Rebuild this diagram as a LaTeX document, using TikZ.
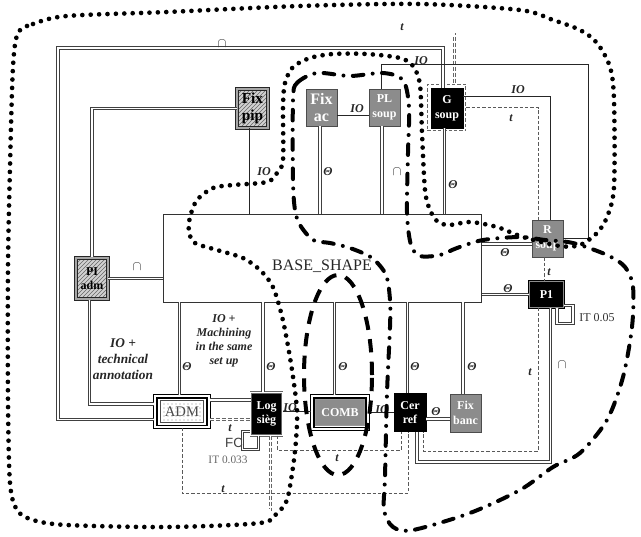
\documentclass[tikz,border=0pt]{standalone}
\usepackage{fontspec}
\setmainfont{Liberation Serif}
\newfontfamily\arialf{Liberation Sans}
\usetikzlibrary{patterns}
\begin{document}
\begin{tikzpicture}[x=0.75pt,y=-0.75pt,
 dbl/.style={draw=black!75, line width=0.75pt, double=white, double distance=1.1pt},
 sgl/.style={draw=black!85, line width=0.65pt},
 dsh/.style={draw=black!65, line width=0.6pt, dash pattern=on 2.5pt off 1.5pt},
 dbldsh/.style={draw=black!60, line width=0.55pt, double=white, double distance=1.1pt, dash pattern=on 3pt off 1.5pt},
 lab/.style={font=\fontsize{9}{10}\selectfont\bfseries\itshape, inner sep=0.5pt, text=black!85},
 capl/.style={font=\fontsize{10}{10}\selectfont, inner sep=0.5pt, text=black!80},
 grybox/.style={draw=black!70, line width=0.6pt, fill=black!45, text=white, font=\fontsize{9}{11}\selectfont\bfseries, align=center, inner sep=0pt, minimum width=23.25pt, minimum height=27.75pt},
 blkbox/.style={draw=black, line width=0.6pt, fill=black, text=white, font=\fontsize{9}{11}\selectfont\bfseries, align=center, inner sep=0pt},
 hatchbox/.style={draw=black!85, line width=0.7pt, double=black!35, double distance=1.3pt, preaction={fill=black!18}, pattern=north east lines, pattern color=black!60, font=\fontsize{9}{10}\selectfont\bfseries, align=center, inner sep=0pt},
 frame3/.style={draw=black, line width=1.1pt, double=white, double distance=1.3pt, inner sep=0pt},
 dotloop/.style={line width=3.5pt, line cap=round, dash pattern=on 0pt off 6.3pt},
 dashdotloop/.style={line width=3pt, line cap=round, dash pattern=on 8pt off 7pt on 0pt off 7pt},
 dashloop/.style={line width=3pt, dash pattern=on 10pt off 7pt}]
\useasboundingbox (0,0) rectangle (641,536);

% ---------- nodes ----------
\node[draw=black!80, line width=0.7pt, fill=white, minimum width=239pt, minimum height=66pt] (base) at (322.5,258) {};
\node[font=\fontsize{12}{14}\selectfont, text=black!85, inner sep=0pt] (basetxt) at (322,266) {BASE\_SHAPE};

\node[hatchbox, minimum width=23pt, minimum height=29pt, font=\fontsize{11.5}{13}\selectfont\bfseries] (fixpip) at (252.5,108.5) {Fix\\pip};
\node[grybox, font=\fontsize{12}{13}\selectfont\bfseries] (fixac) at (321.5,107.5) {Fix\\ac};
\node[grybox] (plsoup) at (384.5,107.5) {PL\\soup};
\node[draw=black!60, line width=0.6pt, dash pattern=on 2.5pt off 1.5pt, minimum width=29pt, minimum height=35pt, inner sep=0pt] (gbox) at (446.5,107.5) {};
\node[blkbox, minimum width=24pt, minimum height=30pt] (gsoup) at (447,108) {G\\soup};
\node[grybox] (rsoup) at (547.5,238.5) {R\\soup};
\node[blkbox, draw=black, line width=0.8pt, double=black!45, double distance=0.6pt, minimum width=25pt, minimum height=19pt] (p1) at (546.5,294.5) {P1};
\node[hatchbox, minimum width=24pt, minimum height=31pt] (piadm) at (92,278.5) {PI\\adm};

\node[frame3, minimum width=40.2pt, minimum height=23pt] (adm) at (182,411.5) {};
\node[draw=black!70, line width=0.4pt, preaction={fill=white}, pattern=dots, pattern color=black!45, minimum width=32pt, minimum height=16.5pt, inner sep=0pt, font=\fontsize{11}{12}\selectfont, text=black!70] (admin) at (adm.center) {ADM};

\node[blkbox, draw=black!60, line width=0.5pt, double=white, double distance=0.8pt, minimum width=23.5pt, minimum height=32pt] (logsieg) at (266.5,414) {Log\\sièg};

\node[frame3, minimum width=41.7pt, minimum height=24.5pt] (comb) at (340,412.5) {};
\node[fill=black!45, draw=black!40, line width=0.5pt, minimum width=37pt, minimum height=19.5pt, inner sep=0pt, text=white, font=\fontsize{9}{10}\selectfont\bfseries] (combin) at (comb.center) {COMB};

\node[blkbox, minimum width=24pt, minimum height=29pt] (cerref) at (410,412.5) {Cer\\ref};
\node[grybox, minimum height=28.5pt] (fixbanc) at (465.5,413) {Fix\\banc};

% ---------- connectors ----------
\coordinate (cA) at (58,48);
\draw[dbl] ([yshift=-6pt]adm.west) -| (cA) -| ([xshift=-3pt]gsoup.north);
\coordinate (cB) at (30,510);
\coordinate (cC) at (30,34);
\draw[dbldsh] ([xshift=3pt]logsieg.south) |- (cB) -- (cC) -| ([xshift=6pt]gbox.north);

\draw[dbl] (fixpip.west) -| (piadm.north);
\draw[sgl] ([xshift=-2pt]fixpip.south) -- ([xshift=-2pt]fixpip.south |- base.north);
\draw[dbl] ([xshift=-1pt]fixac.south) -- ([xshift=-1pt]fixac.south |- base.north);
\draw[sgl] ([yshift=-6pt]fixac.east) -- ([yshift=-6pt]plsoup.west);
\draw[dbl] ([xshift=-2pt]plsoup.south) -- ([xshift=-2pt]plsoup.south |- base.north);
\coordinate (cD) at (588,64);
\draw[sgl] ([xshift=-2pt]plsoup.north) |- (cD) |- (rsoup.east);
\draw[sgl] ([yshift=9pt]gsoup.east) -| ([xshift=2pt]rsoup.north);
\draw[dsh] (gbox.east) -| ([xshift=-7pt]rsoup.north);
\draw[dbl] ([xshift=-2pt]gsoup.south) -- ([xshift=-2pt]gsoup.south |- base.north);
\draw[dbl] ([yshift=-4pt]rsoup.west) -- ([yshift=-4pt]rsoup.west -| base.east);
\draw[dsh] ([xshift=-2.5pt]rsoup.south) -- ([xshift=-2.5pt]rsoup.south |- p1.north);
\draw[dbl] (p1.west) -- (p1.west -| base.east);
\draw[dbl] ([xshift=-5pt]p1.south east) -- ++(0,16) -- ++(16,0) -- ++(0,-18) -- ++(-9,0);
\coordinate (cE) at (417,462);
\draw[dbl] ([xshift=3pt]p1.south) |- (cE) -- (cE |- cerref.south);
\coordinate (cF) at (423,451);
\draw[dsh] ([xshift=-6pt]p1.south) |- (cF) -- (cF |- cerref.south);
\draw[dbl] ([yshift=-4.5pt]fixbanc.west) -- ([yshift=-4.5pt]fixbanc.west -| cerref.east);
\draw[dbl] ([xshift=-2pt]fixbanc.north) -- ([xshift=-2pt]fixbanc.north |- base.south);
\draw[dbl] ([xshift=-2pt]cerref.north) -- ([xshift=-2pt]cerref.north |- base.south);
\draw[dbl] ([xshift=-4pt]comb.north) -- ([xshift=-4pt]comb.north |- base.south);
\draw[sgl] (comb.east) -- (comb.east -| cerref.west);
\draw[sgl] ([yshift=2pt]logsieg.east) -- ([yshift=2pt]logsieg.east -| comb.west);
\draw[dbl] ([xshift=-2.5pt]logsieg.north) -- ([xshift=-2.5pt]logsieg.north |- base.south);
\draw[dbl] ([xshift=-2pt]adm.north) -- ([xshift=-2pt]adm.north |- base.south);
\draw[dbl] ([yshift=8.5pt]adm.east) -- ([yshift=8.5pt]adm.east -| logsieg.west);
\draw[dbldsh] ([yshift=-6pt]adm.east) -- ([yshift=-6pt]adm.east -| logsieg.west);
\draw[dbl] ([xshift=-6pt]logsieg.south) -- ++(0,14) -- ++(-16,0) -- ++(0,-18) -- ++(7,0);
\coordinate (cG) at (408,493);
\draw[dsh] (adm.south) |- (cG) -- (cG |- cerref.south);
\coordinate (cH) at (401,450);
\draw[dsh] ([xshift=8pt]logsieg.south) |- (cH) -- (cH |- cerref.south);
\draw[dbl] (piadm.east) -- (piadm.east -| base.west);
\draw[dbl] ([xshift=-2pt]piadm.south) |- ([yshift=5.6pt]adm.west);

% ---------- labels ----------
\node[lab] (l1) at (264,172) {IO};
\node[lab] (l2) at (328,172) {Θ};
\node[lab] (l3) at (357,109) {IO};
\node[capl] (l4) at (397,172) {$\cap$};
\node[lab] (l5) at (421,61) {IO};
\node[capl] (l6) at (222,44) {$\cap$};
\node[lab] (l7) at (402,27) {t};
\node[lab] (l8) at (518,90) {IO};
\node[lab] (l9) at (511,118) {t};
\node[lab] (l10) at (453,185) {Θ};
\node[lab] (l11) at (505,253) {Θ};
\node[lab] (l12) at (549,272) {t};
\node[lab] (l13) at (508,289) {Θ};
\node[font=\fontsize{9}{10}\selectfont, text=black!80, inner sep=0pt] (l14) at (597,318) {IT 0.05};
\node[capl] (l15) at (562,365) {$\cap$};
\node[lab] (l16) at (530,372) {t};
\node[lab] (l17) at (436,412) {Θ};
\node[lab] (l18) at (472,367) {Θ};
\node[lab] (l19) at (415,367) {Θ};
\node[lab] (l20) at (343,367) {Θ};
\node[lab] (l21) at (382,410) {IO};
\node[lab] (l22) at (290,408) {IO};
\node[lab] (l23) at (271,367) {Θ};
\node[lab] (l24) at (187,367) {Θ};
\node[lab] (l25) at (230,428) {t};
\node[font=\fontsize{10}{10}\selectfont\arialf, text=black!75, inner sep=0pt] (l26) at (234,443) {FC};
\node[font=\fontsize{8.5}{9}\selectfont, text=black!60, inner sep=0pt] (l27) at (228,460) {IT 0.033};
\node[lab] (l28) at (223,489) {t};
\node[lab] (l29) at (337,458) {t};
\node[capl] (l30) at (137,267) {$\cap$};
\node[lab, align=center, font=\fontsize{10}{12}\selectfont\bfseries\itshape] (l31) at (123,359) {IO +\\technical\\annotation};
\node[lab, align=center, font=\fontsize{9}{10.5}\selectfont\bfseries\itshape] (l32) at (224,341) {IO +\\Machining\\in the same\\set up};

% ---------- grouping loops ----------
\draw[dashloop] (338,375) ellipse [x radius=25.5pt, y radius=75pt];

\draw[dashdotloop] plot[smooth cycle] coordinates {
 (293,100) (297,83) (317,73) (350,76) (383,73) (403,80) (409,107) (408,153)
 (407,213) (411,245) (420,256) (440,255) (457,248) (483,240) (520,237) (545,240)
 (573,243) (607,255) (625,267) (633,287) (632,327) (623,377) (607,420) (580,453)
 (553,467) (520,490) (470,513) (413,530) (393,527) (384,510) (385,477) (387,393)
 (390,327) (390,300) (386,275) (372,258) (350,248) (330,243) (313,240) (300,225)
 (295,210) (293,180)};

\draw[dotloop] plot[smooth cycle] coordinates {
 (18,33) (33,24) (67,16) (167,12) (300,6) (420,4) (520,10) (553,20) (580,30)
 (597,43) (610,67) (614,100) (614,187) (607,217) (597,233) (580,245) (560,246)
 (523,237) (497,227) (470,222) (450,225) (438,222) (430,210) (425,190) (422,133)
 (420,85) (413,66) (400,58) (367,54) (333,54) (310,58) (293,67) (285,83) (283,107)
 (283,160) (277,173) (267,182) (233,185) (213,188) (197,200) (190,217) (189,232)
 (195,243) (217,250) (243,258) (260,270) (272,285) (279,305) (285,330) (292,370)
 (297,410) (296,440) (293,467) (287,500) (277,513) (260,523) (167,527) (67,525)
 (33,520) (17,510) (10,483) (8,400) (8,267) (10,167) (13,67)};
\end{tikzpicture}
\end{document}
